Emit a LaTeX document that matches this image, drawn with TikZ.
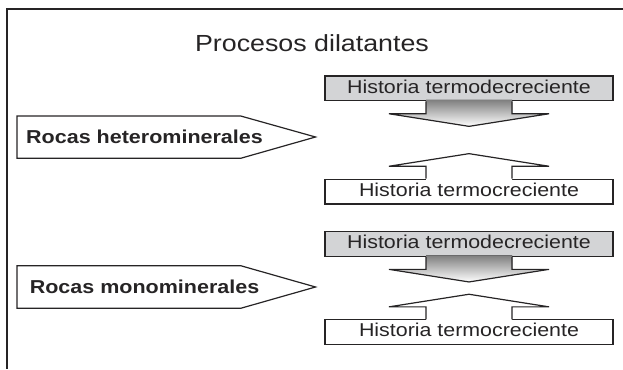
\documentclass[tikz,border=0pt]{standalone}
\usepackage{fontspec}
\setmainfont{Liberation Sans}[FakeStretch=1.15]
\usepackage{tikz}

\definecolor{ink}{RGB}{38,36,37}
\definecolor{shade}{RGB}{211,212,214}

\begin{document}
\begin{tikzpicture}[x=1pt,y=-1pt,
  frame/.style={draw=ink,line width=1.8pt},
  outline/.style={draw=ink,line width=1.2pt,line join=miter},
  hbox/.style={outline,minimum width=288pt,minimum height=24.7pt,inner sep=0pt,text depth=4pt,text=ink,font=\fontsize{18.6}{20}\selectfont},
  rocklabel/.style={anchor=west,inner sep=0pt,text=ink,font=\fontsize{18.7}{20}\selectfont\bfseries}]
\useasboundingbox (0,0) rectangle (623,369);
\draw[frame] (623,9) -- (7,9) -- (7,369);

\node[anchor=base,text=ink,font=\fontsize{23.3}{26}\selectfont] (title) at (312,51.7) {Procesos dilatantes};

\draw[outline] (17,116) -- (240.7,116) -- (315.5,137) -- (240.7,158.3) -- (17,158.3) -- cycle;
\node[rocklabel] (hetero) at (26,136.7) {Rocas heterominerales};

\node[hbox,fill=shade] (dec1) at (469,88.4) {Historia termodecreciente};
\begin{scope}[shift={(dec1.south)}]
\fill[shade] (-43,-1.5) -- (-43,12.4) -- (-80,12.4) -- (0,25) -- (80,12.4) -- (43,12.4) -- (43,-1.5) -- cycle;
\draw[outline] (-43,0) -- (-43,12.4) -- (-80,12.4) -- (0,25) -- (80,12.4) -- (43,12.4) -- (43,0);
\end{scope}

\node[hbox,fill=white] (inc1) at (469,191.6) {Historia termocreciente};
\begin{scope}[shift={(inc1.north)}]
\fill[white] (-43,1.5) -- (-43,-12.4) -- (-80,-12.4) -- (0,-25) -- (80,-12.4) -- (43,-12.4) -- (43,1.5) -- cycle;
\draw[outline] (-43,0) -- (-43,-12.4) -- (-80,-12.4) -- (0,-25) -- (80,-12.4) -- (43,-12.4) -- (43,0);
\end{scope}

\draw[outline] (17,265.7) -- (240.7,265.7) -- (315.5,287) -- (240.7,308.3) -- (17,308.3) -- cycle;
\node[rocklabel] (mono) at (29.6,286.8) {Rocas monominerales};

\node[hbox,fill=shade] (dec2) at (469,244) {Historia termodecreciente};
\begin{scope}[shift={(dec2.south)}]
\fill[shade] (-43,-1.5) -- (-43,12.4) -- (-80,12.4) -- (0,25) -- (80,12.4) -- (43,12.4) -- (43,-1.5) -- cycle;
\draw[outline] (-43,0) -- (-43,12.4) -- (-80,12.4) -- (0,25) -- (80,12.4) -- (43,12.4) -- (43,0);
\end{scope}

\node[hbox,fill=white] (inc2) at (469,332.2) {Historia termocreciente};
\begin{scope}[shift={(inc2.north)}]
\fill[white] (-43,1.5) -- (-43,-12.4) -- (-80,-12.4) -- (0,-25) -- (80,-12.4) -- (43,-12.4) -- (43,1.5) -- cycle;
\draw[outline] (-43,0) -- (-43,-12.4) -- (-80,-12.4) -- (0,-25) -- (80,-12.4) -- (43,-12.4) -- (43,0);
\end{scope}

\end{tikzpicture}
\end{document}
